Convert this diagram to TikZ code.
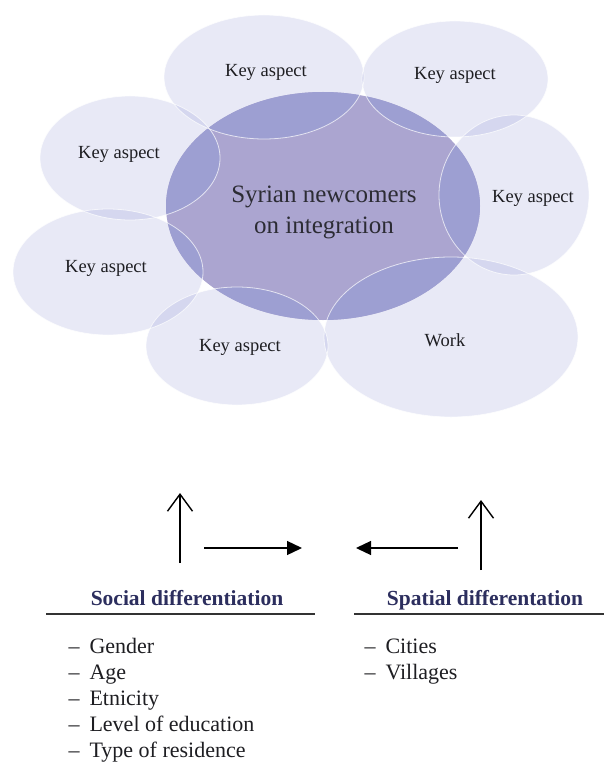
\documentclass[tikz,border=0pt]{standalone}
\usepackage{fontspec}
\setmainfont{LiberationSerif}[Extension=.ttf, UprightFont=*-Regular, BoldFont=*-Bold, ItalicFont=*-Italic, BoldItalicFont=*-BoldItalic]
\usetikzlibrary{arrows.meta}
\definecolor{satfill}{RGB}{120,130,205}
\definecolor{ctrfill}{RGB}{171,165,208}
\definecolor{ovfill}{RGB}{157,159,210}
\definecolor{headcol}{RGB}{44,46,94}
\definecolor{txtcol}{RGB}{30,30,34}
\newcommand\satlist{264/77/100/62, 455/79/93/58, 130/158/90/62, 514/195/75/80, 108/272/95/63, 237/346/91/59, 451/337/127/80}
\begin{document}
\begin{tikzpicture}[x=1pt,y=-1pt,
  keytxt/.style={font=\fontsize{18.5}{22}\selectfont, text=txtcol},
  headtxt/.style={anchor=base, font=\bfseries\fontsize{21.5}{24}\selectfont, text=headcol},
  listtxt/.style={anchor=base west, font=\fontsize{22}{26}\selectfont, text=txtcol},
  rule/.style={line width=2pt, draw=black!80},
  uparrow/.style={line width=1.4pt, -{Straight Barb[length=17pt,width=25pt,line width=1.4pt]}},
  harrow/.style={line width=1.3pt, -{Triangle[length=15pt,width=14pt]}}]
\useasboundingbox (0,0) rectangle (604,762);
\fill[white] (0,0) rectangle (604,762);
% satellites
\foreach \x/\y/\a/\b in \satlist {
  \fill[satfill, fill opacity=0.17] (\x,\y) ellipse [x radius=\a, y radius=\b];
}
% central
\fill[ctrfill] (323,206) ellipse [x radius=157, y radius=114];
\begin{scope}
  \clip (323,206) ellipse [x radius=157, y radius=114];
  \foreach \x/\y/\a/\b in \satlist {
    \fill[ovfill] (\x,\y) ellipse [x radius=\a, y radius=\b];
  }
\end{scope}
\foreach \x/\y/\a/\b in \satlist {
  \draw[white, line width=0.8pt, draw opacity=0.7] (\x,\y) ellipse [x radius=\a, y radius=\b];
}
% texts
\node[keytxt] (k1) at (266,72) {Key aspect};
\node[keytxt] (k2) at (455,75) {Key aspect};
\node[keytxt] (k3) at (119,154) {Key aspect};
\node[keytxt] (k4) at (533,198) {Key aspect};
\node[keytxt] (k5) at (106,268) {Key aspect};
\node[keytxt] (k6) at (240,347) {Key aspect};
\node[keytxt] (work) at (445,340) {Work};
\node[align=center, font=\fontsize{25}{31}\selectfont, text=txtcol!90!ctrfill] (ctr) at (324,212) {Syrian newcomers\\on integration};
% arrows
\coordinate (la1) at (180,563);
\coordinate (la2) at (180,493);
\coordinate (ra1) at (481,570);
\coordinate (ra2) at (481,500);
\coordinate (h1a) at (204,548);
\coordinate (h1b) at (302,548);
\coordinate (h2a) at (458,548);
\coordinate (h2b) at (356,548);
\draw[uparrow] (la1) -- (la2);
\draw[uparrow] (ra1) -- (ra2);
\draw[harrow] (h1a) -- (h1b);
\draw[harrow] (h2a) -- (h2b);
% headers
\node[headtxt] (soc) at (187,605) {Social differentiation};
\node[headtxt] (spa) at (485,605) {Spatial differentation};
\coordinate (sl1) at (46,614);
\coordinate (sl2) at (315,614);
\coordinate (pl1) at (354,614);
\coordinate (pl2) at (604,614);
\draw[rule] (sl1) -- (sl2);
\draw[rule] (pl1) -- (pl2);
% lists
\foreach \t [count=\i] in {Gender, Age, Etnicity, Level of education, Type of residence} {
  \node[listtxt] (s\i) at (65,{627+26*\i}) {–\hspace{10pt}\t};
}
\foreach \t [count=\i] in {Cities, Villages} {
  \node[listtxt] (p\i) at (361,{627+26*\i}) {–\hspace{10pt}\t};
}
\end{tikzpicture}
\end{document}
